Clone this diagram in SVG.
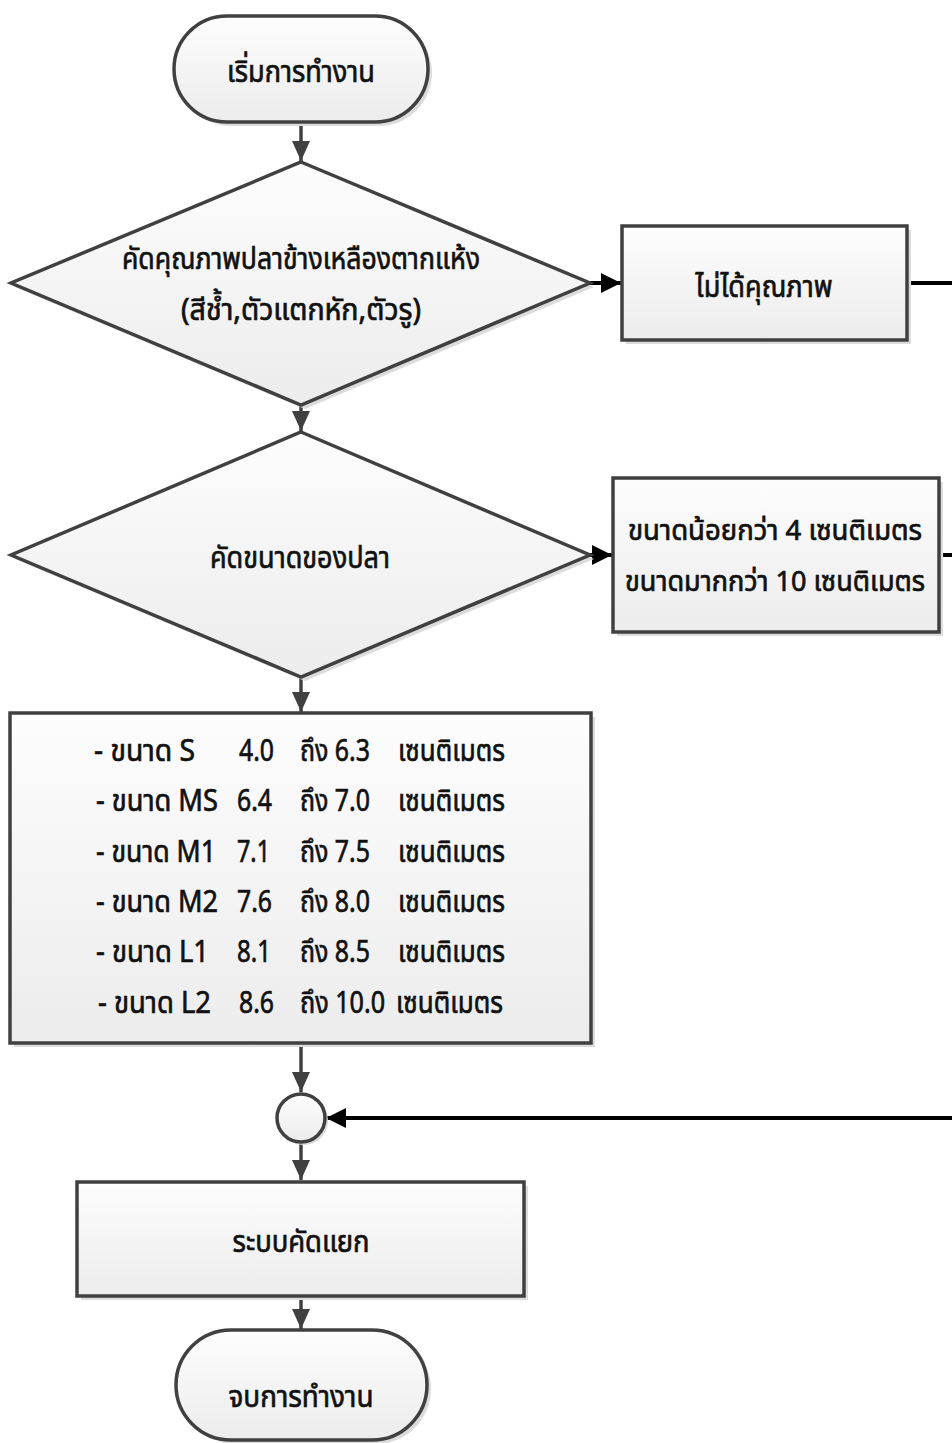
<svg xmlns="http://www.w3.org/2000/svg" width="952" height="1443" viewBox="0 0 952 1443">
  <style>
    .shape { stroke: #404040; stroke-width: 3.5; fill: url(#fillGrad); }
    .shadow { fill: #dcdcdc; stroke: none; }
    .lbl { font-family: "Noto Sans Thai", "Leelawadee UI", "Tahoma", "Noto Sans", "DejaVu Sans", sans-serif; font-size: 31px; font-weight: normal; fill: #111111; stroke: #111111; stroke-width: 0.7; text-anchor: middle; dominant-baseline: central; }
    .row text { font-family: "Noto Sans Thai", "Leelawadee UI", "Tahoma", "Noto Sans", "DejaVu Sans", sans-serif; font-size: 31px; font-weight: normal; fill: #111111; stroke: #111111; stroke-width: 0.7; dominant-baseline: central; }
    .small { font-size: 28px; }
    .flow { stroke: #404040; stroke-width: 3.5; fill: none; }
    .branch { stroke: #000000; stroke-width: 4; fill: none; }
  </style>
  <defs>
    <linearGradient id="fillGrad" x1="0" y1="0" x2="0" y2="1">
      <stop offset="0" stop-color="#fdfdfd"/>
      <stop offset="1" stop-color="#ececec"/>
    </linearGradient>
    <marker id="arrowGray" markerUnits="userSpaceOnUse" markerWidth="20" markerHeight="18" refX="20" refY="9" orient="auto">
      <path d="M0,0 L20,9 L0,18 Z" fill="#404040"/>
    </marker>
    <marker id="arrowBlack" markerUnits="userSpaceOnUse" markerWidth="20" markerHeight="20" refX="20" refY="10" orient="auto">
      <path d="M0,0 L20,10 L0,20 Z" fill="#000000"/>
    </marker>
  </defs>

  <!-- connectors -->
  <g id="connectors">
    <line class="flow" x1="301" y1="122" x2="301" y2="161" marker-end="url(#arrowGray)"/>
    <line class="flow" x1="301" y1="405" x2="301" y2="431" marker-end="url(#arrowGray)"/>
    <line class="flow" x1="301" y1="677" x2="301" y2="712" marker-end="url(#arrowGray)"/>
    <line class="flow" x1="301" y1="1043" x2="301" y2="1092" marker-end="url(#arrowGray)"/>
    <line class="flow" x1="301" y1="1143" x2="301" y2="1180" marker-end="url(#arrowGray)"/>
    <line class="flow" x1="301" y1="1296" x2="301" y2="1329" marker-end="url(#arrowGray)"/>
    <line class="branch" x1="590" y1="283" x2="621" y2="283" marker-end="url(#arrowBlack)"/>
    <line class="branch" x1="907" y1="283" x2="952" y2="283"/>
    <line class="branch" x1="590" y1="555" x2="612" y2="555" marker-end="url(#arrowBlack)"/>
    <line class="branch" x1="939" y1="555" x2="952" y2="555"/>
    <line class="branch" x1="952" y1="1118" x2="326" y2="1118" marker-end="url(#arrowBlack)"/>
  </g>

  <!-- start -->
  <g id="start">
    <rect class="shadow" x="178" y="20" width="254" height="106" rx="53"/>
    <rect class="shape" x="174" y="16" width="254" height="106" rx="53"/>
    <text class="lbl" x="301" y="72" textLength="148" lengthAdjust="spacingAndGlyphs">เริ่มการทำงาน</text>
  </g>

  <!-- quality check -->
  <g id="checkQuality">
    <polygon class="shadow" points="305,166 594,287 305,409 15,287"/>
    <polygon class="shape" points="301,162 590,283 301,405 11,283"/>
    <text class="lbl" x="301" y="259" textLength="358" lengthAdjust="spacingAndGlyphs">คัดคุณภาพปลาข้างเหลืองตากแห้ง</text>
    <text class="lbl" x="301" y="310" textLength="240" lengthAdjust="spacingAndGlyphs">(สีช้ำ,ตัวแตกหัก,ตัวรู)</text>
  </g>

  <!-- rejected -->
  <g id="rejectQuality">
    <rect class="shadow" x="626" y="230" width="285" height="114"/>
    <rect class="shape" x="622" y="226" width="285" height="114"/>
    <text class="lbl" x="764" y="287" textLength="137" lengthAdjust="spacingAndGlyphs">ไม่ได้คุณภาพ</text>
  </g>

  <!-- size check -->
  <g id="checkSize">
    <polygon class="shadow" points="305,436 594,559 305,681 15,559"/>
    <polygon class="shape" points="301,432 590,555 301,677 11,555"/>
    <text class="lbl" x="300" y="558" textLength="180" lengthAdjust="spacingAndGlyphs">คัดขนาดของปลา</text>
  </g>

  <!-- out of range -->
  <g id="rejectSize">
    <rect class="shadow" x="617" y="482" width="326" height="154"/>
    <rect class="shape" x="613" y="478" width="326" height="154"/>
    <text class="lbl small" x="775" y="531" textLength="294" lengthAdjust="spacingAndGlyphs">ขนาดน้อยกว่า 4 เซนติเมตร</text>
    <text class="lbl small" x="775" y="582" textLength="300" lengthAdjust="spacingAndGlyphs">ขนาดมากกว่า 10 เซนติเมตร</text>
  </g>

  <!-- size classes -->
  <g id="sizeClasses">
    <rect class="shadow" x="14" y="717" width="581" height="330"/>
    <rect class="shape" x="10" y="713" width="581" height="330"/>
    <g class="row">
      <text x="94" y="751" textLength="101" lengthAdjust="spacingAndGlyphs">- ขนาด S</text>
      <text x="239" y="751" textLength="35" lengthAdjust="spacingAndGlyphs">4.0</text>
      <text x="300" y="751" textLength="70" lengthAdjust="spacingAndGlyphs">ถึง 6.3</text>
      <text x="398" y="751" textLength="107" lengthAdjust="spacingAndGlyphs">เซนติเมตร</text>

      <text x="96" y="801" textLength="122" lengthAdjust="spacingAndGlyphs">- ขนาด MS</text>
      <text x="237" y="801" textLength="35" lengthAdjust="spacingAndGlyphs">6.4</text>
      <text x="300" y="801" textLength="70" lengthAdjust="spacingAndGlyphs">ถึง 7.0</text>
      <text x="398" y="801" textLength="107" lengthAdjust="spacingAndGlyphs">เซนติเมตร</text>

      <text x="96" y="852" textLength="120" lengthAdjust="spacingAndGlyphs">- ขนาด M1</text>
      <text x="237" y="852" textLength="33" lengthAdjust="spacingAndGlyphs">7.1</text>
      <text x="300" y="852" textLength="70" lengthAdjust="spacingAndGlyphs">ถึง 7.5</text>
      <text x="398" y="852" textLength="107" lengthAdjust="spacingAndGlyphs">เซนติเมตร</text>

      <text x="96" y="902" textLength="122" lengthAdjust="spacingAndGlyphs">- ขนาด M2</text>
      <text x="237" y="902" textLength="35" lengthAdjust="spacingAndGlyphs">7.6</text>
      <text x="300" y="902" textLength="70" lengthAdjust="spacingAndGlyphs">ถึง 8.0</text>
      <text x="398" y="902" textLength="107" lengthAdjust="spacingAndGlyphs">เซนติเมตร</text>

      <text x="96" y="952" textLength="113" lengthAdjust="spacingAndGlyphs">- ขนาด L1</text>
      <text x="237" y="952" textLength="34" lengthAdjust="spacingAndGlyphs">8.1</text>
      <text x="300" y="952" textLength="70" lengthAdjust="spacingAndGlyphs">ถึง 8.5</text>
      <text x="398" y="952" textLength="107" lengthAdjust="spacingAndGlyphs">เซนติเมตร</text>

      <text x="98" y="1003" textLength="113" lengthAdjust="spacingAndGlyphs">- ขนาด L2</text>
      <text x="239" y="1003" textLength="35" lengthAdjust="spacingAndGlyphs">8.6</text>
      <text x="300" y="1003" textLength="85" lengthAdjust="spacingAndGlyphs">ถึง 10.0</text>
      <text x="396" y="1003" textLength="107" lengthAdjust="spacingAndGlyphs">เซนติเมตร</text>
    </g>
  </g>

  <!-- merge point -->
  <g id="merge">
    <circle class="shadow" cx="304" cy="1121" r="24"/>
    <circle class="shape" cx="301" cy="1118" r="24"/>
  </g>

  <!-- sorting system -->
  <g id="sortingSystem">
    <rect class="shadow" x="81" y="1186" width="447" height="114"/>
    <rect class="shape" x="77" y="1182" width="447" height="114"/>
    <text class="lbl" x="301" y="1242" textLength="137" lengthAdjust="spacingAndGlyphs">ระบบคัดแยก</text>
  </g>

  <!-- end -->
  <g id="end">
    <rect class="shadow" x="180" y="1334" width="251" height="110" rx="55"/>
    <rect class="shape" x="176" y="1330" width="251" height="110" rx="55"/>
    <text class="lbl" x="301" y="1397" textLength="145" lengthAdjust="spacingAndGlyphs">จบการทำงาน</text>
  </g>
</svg>
